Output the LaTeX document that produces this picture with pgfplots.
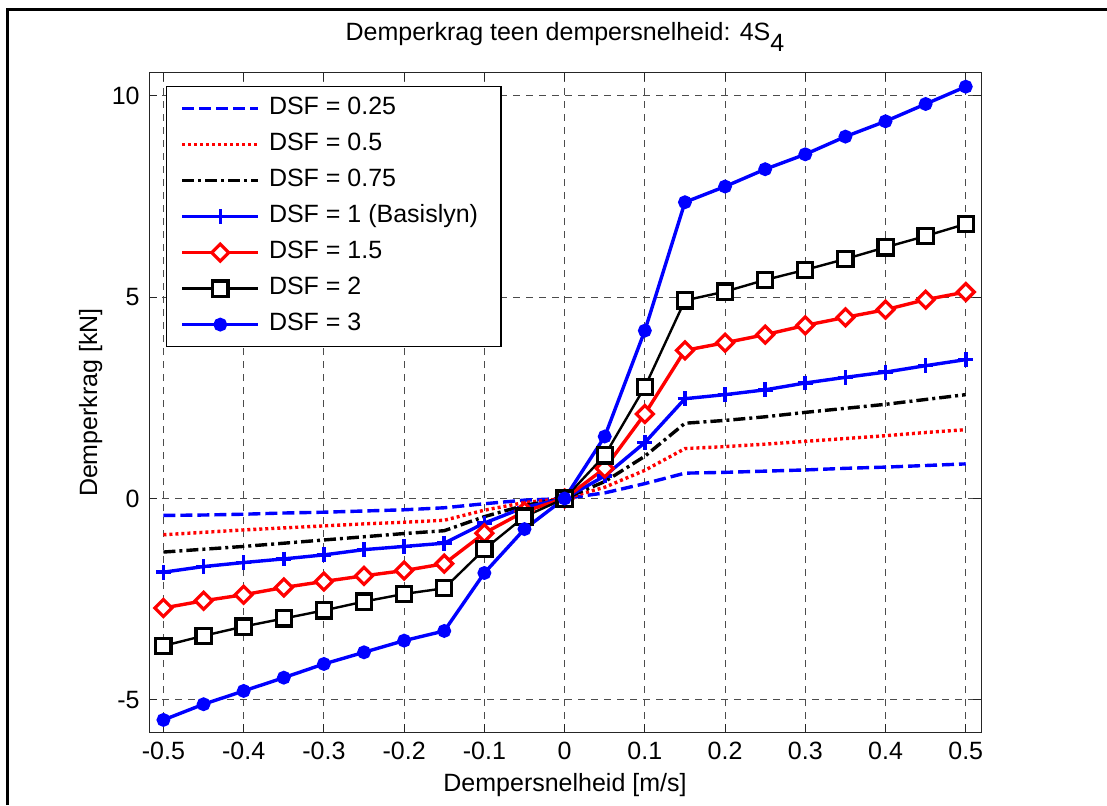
\documentclass[border=0pt]{standalone}
\usepackage{fontspec}
\setmainfont{Liberation Sans}
\usepackage{pgfplots}
\pgfplotsset{compat=1.18}
\definecolor{mblue}{RGB}{0,0,255}
\definecolor{mred}{RGB}{255,0,0}
\begin{document}
\fontsize{12.5}{14}\selectfont
\begin{tikzpicture}
\path[use as bounding box] (0pt,0pt) rectangle (553.5pt,402.5pt);
\draw[line width=1.5pt] (3.5pt,0pt) -- (3.5pt,397.5pt) -- (553.5pt,397.5pt);
\begin{axis}[
  at={(74.5pt,36.5pt)}, anchor=south west,
  scale only axis, width=416pt, height=329.5pt,
  xmin=-0.518, xmax=0.519, ymin=-5.8, ymax=10.57,
  font=\fontsize{12.5}{14}\selectfont,
  axis line style={black!85, line width=0.5pt},
  tick align=inside, major tick length=4pt,
  tick style={black!85, line width=0.5pt},
  xtick={-0.5,-0.4,-0.3,-0.2,-0.1,0,0.1,0.2,0.3,0.4,0.5},
  xticklabels={-0.5,-0.4,-0.3,-0.2,-0.1,0,0.1,0.2,0.3,0.4,0.5},
  ytick={-5,0,5,10}, yticklabels={-5,0,5,10},
  xticklabel style={inner sep=0pt, yshift=-5pt},
  yticklabel style={inner sep=0pt, xshift=-4.5pt},
  grid=major,
  major grid style={dash pattern=on 3.5pt off 3pt, black!70, line width=0.5pt},
  every axis title shift=0pt,
  title={Demperkrag teen dempersnelheid: 4S\raisebox{-5.5pt}{4}},
  title style={at={(0.5,1.0486)}, anchor=base, inner sep=0pt},
  xlabel={Dempersnelheid [m/s]},
  xlabel style={at={(0.5,-0.091)}, anchor=base, inner sep=0pt},
  ylabel={Demperkrag [kN]},
  ylabel style={at={(-0.0625,0.5)}, anchor=base, inner sep=0pt},
  legend cell align=left,
  legend image code/.code={\draw[mark repeat=2,mark phase=2] plot coordinates {(0pt,0pt) (19pt,0pt) (38pt,0pt)};},
  legend style={at={(0,1)}, anchor=north west, xshift=8.5pt, yshift=-6.5pt,
    draw=black, line width=0.6pt, fill=white, inner xsep=7pt, inner ysep=5pt,
    row sep=6pt, font=\fontsize{12.5}{14}\selectfont,
    nodes={inner xsep=4.5pt, inner ysep=0pt, text height=9pt, text depth=3pt}},
]
\addplot[mblue, line width=1.7pt, dash pattern=on 6pt off 2.5pt] coordinates {
(-0.5,-0.42) (-0.45,-0.41) (-0.4,-0.39) (-0.35,-0.36) (-0.3,-0.34) (-0.25,-0.31) (-0.2,-0.28) (-0.15,-0.23) (-0.1,-0.13) (-0.05,-0.04) (0,0)
(0.05,0.14) (0.1,0.37) (0.15,0.63) (0.2,0.65) (0.25,0.68) (0.3,0.71) (0.35,0.75) (0.4,0.78) (0.45,0.82) (0.5,0.86)};
\addlegendentry{DSF = 0.25}
\addplot[mred, line width=1.7pt, dash pattern=on 1.5pt off 1.5pt] coordinates {
(-0.5,-0.90) (-0.45,-0.84) (-0.4,-0.78) (-0.35,-0.73) (-0.3,-0.68) (-0.25,-0.63) (-0.2,-0.59) (-0.15,-0.54) (-0.1,-0.29) (-0.05,-0.10) (0,0)
(0.05,0.28) (0.1,0.70) (0.15,1.24) (0.2,1.29) (0.25,1.35) (0.3,1.42) (0.35,1.49) (0.4,1.56) (0.45,1.64) (0.5,1.71)};
\addlegendentry{DSF = 0.5}
\addplot[black, line width=1.7pt, dash pattern=on 6pt off 2pt on 1.5pt off 2pt] coordinates {
(-0.5,-1.33) (-0.45,-1.26) (-0.4,-1.19) (-0.35,-1.11) (-0.3,-1.03) (-0.25,-0.95) (-0.2,-0.87) (-0.15,-0.80) (-0.1,-0.45) (-0.05,-0.17) (0,0)
(0.05,0.42) (0.1,1.05) (0.15,1.87) (0.2,1.94) (0.25,2.03) (0.3,2.14) (0.35,2.24) (0.4,2.34) (0.45,2.46) (0.5,2.58)};
\addlegendentry{DSF = 0.75}
\addplot[mblue, line width=1.7pt, mark=+, mark size=3.7pt, mark options={solid, line width=1.8pt}] coordinates {
(-0.5,-1.83) (-0.45,-1.69) (-0.4,-1.59) (-0.35,-1.50) (-0.3,-1.40) (-0.25,-1.27) (-0.2,-1.19) (-0.15,-1.11) (-0.1,-0.61) (-0.05,-0.22) (0,0)
(0.05,0.56) (0.1,1.39) (0.15,2.48) (0.2,2.58) (0.25,2.70) (0.3,2.87) (0.35,3.01) (0.4,3.14) (0.45,3.30) (0.5,3.45)};
\addlegendentry{DSF = 1 (Basislyn)}
\addplot[mred, line width=1.7pt, mark=square*, mark size=3.0pt, mark options={solid, rotate=45, fill=white, line width=1.6pt}] coordinates {
(-0.5,-2.72) (-0.45,-2.54) (-0.4,-2.39) (-0.35,-2.21) (-0.3,-2.06) (-0.25,-1.92) (-0.2,-1.79) (-0.15,-1.62) (-0.1,-0.86) (-0.05,-0.32) (0,0)
(0.05,0.75) (0.1,2.10) (0.15,3.68) (0.2,3.87) (0.25,4.07) (0.3,4.30) (0.35,4.50) (0.4,4.69) (0.45,4.94) (0.5,5.13)};
\addlegendentry{DSF = 1.5}
\addplot[black, line width=1.2pt, mark=square*, mark size=3.8pt, mark options={solid, fill=white, line width=1.6pt}] coordinates {
(-0.5,-3.66) (-0.45,-3.41) (-0.4,-3.18) (-0.35,-2.98) (-0.3,-2.78) (-0.25,-2.56) (-0.2,-2.37) (-0.15,-2.23) (-0.1,-1.26) (-0.05,-0.45) (0,0)
(0.05,1.07) (0.1,2.77) (0.15,4.92) (0.2,5.14) (0.25,5.43) (0.3,5.68) (0.35,5.95) (0.4,6.24) (0.45,6.52) (0.5,6.82)};
\addlegendentry{DSF = 2}
\addplot[mblue, line width=1.7pt, mark=*, mark size=2.6pt, mark options={solid}] coordinates {
(-0.5,-5.50) (-0.45,-5.11) (-0.4,-4.78) (-0.35,-4.45) (-0.3,-4.11) (-0.25,-3.82) (-0.2,-3.53) (-0.15,-3.29) (-0.1,-1.85) (-0.05,-0.76) (0,0)
(0.05,1.54) (0.1,4.17) (0.15,7.36) (0.2,7.75) (0.25,8.18) (0.3,8.55) (0.35,8.99) (0.4,9.37) (0.45,9.80) (0.5,10.23)};
\addlegendentry{DSF = 3}
\end{axis}
\end{tikzpicture}
\end{document}
